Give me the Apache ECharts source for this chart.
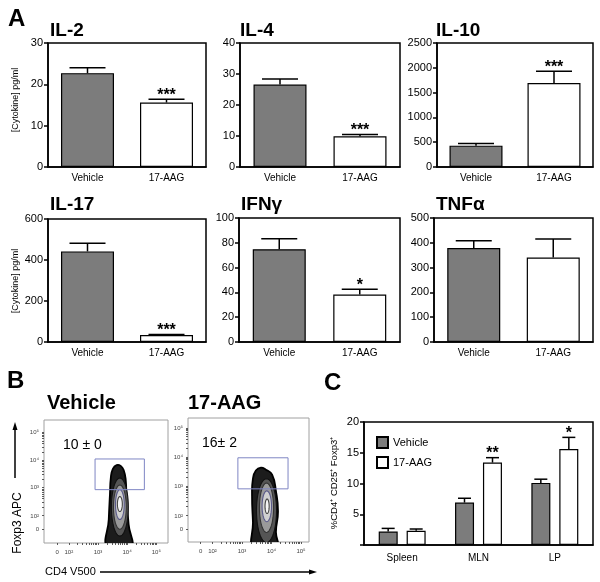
<!DOCTYPE html>
<html><head><meta charset="utf-8">
<script src="https://cdn.jsdelivr.net/npm/echarts@6/dist/echarts.min.js"></script>
<style>html,body{margin:0;padding:0;background:#fff}#c{width:600px;height:582px}</style>
</head><body><div id="c"></div>
<script>
// ================= DATA =================
const groups = ['Vehicle', '17-AAG'];

const il2Mean = [22.7, 15.6];  const il2Err = [1.3, 0.8];   const il2Sig = ['', '***'];  const il2Axis = [0, 30, 10];
const il4Mean = [26.6, 9.9];   const il4Err = [1.8, 0.6];   const il4Sig = ['', '***'];  const il4Axis = [0, 40, 10];
const il10Mean = [430, 1695];  const il10Err = [45, 235];   const il10Sig = ['', '***']; const il10Axis = [0, 2500, 500];
const il17Mean = [442, 34];    const il17Err = [40, 3];     const il17Sig = ['', '***']; const il17Axis = [0, 600, 200];
const ifngMean = [74.8, 38.3]; const ifngErr = [8.5, 4.2];  const ifngSig = ['', '*'];   const ifngAxis = [0, 100, 20];
const tnfMean = [379, 341];    const tnfErr = [29, 74];     const tnfSig = ['', ''];     const tnfAxis = [0, 500, 100];

const tissues = ['Spleen', 'MLN', 'LP'];
const tregVehicle = [2.2, 6.9, 10.1];  const tregVehicleErr = [0.5, 0.7, 0.6];
const treg17AAG = [2.3, 13.4, 15.6];   const treg17AAGErr = [0.3, 0.8, 1.9];
const tregSig = ['', '**', '*'];
const tregAxis = [0, 20, 5];

// flow cytometry (biexponential display units: 10^k -> k)
const flowXTickVals = [1.6, 2, 3, 4, 5];
const flowYTickVals = [1.5, 1.95, 3, 4, 5];
const flowTickLabels = ['0', '10²', '10³', '10⁴', '10⁵'];
const vehFreq = '10 ± 0';
const aagFreq = '16± 2';
const vehGate = [2.9, 2.93, 4.59, 4.04];
const aagGate = [2.86, 2.9, 4.56, 3.97];
const vehOuter = [[3.34,0.8],[3.37,1.86],[3.41,2.75],[3.44,3.36],[3.51,3.68],[3.64,3.82],[3.78,3.79],[3.88,3.64],[3.95,3.29],[3.98,2.57],[4.05,1.68],[4.12,0.8]];
const vehRings = [[3.75,2.3,0.29,1.05],[3.75,2.3,0.22,0.8],[3.75,2.39,0.15,0.54],[3.75,2.41,0.085,0.27]];
const aagOuter = [[3.41,0.79],[3.37,1.77],[3.34,2.65],[3.37,3.25],[3.47,3.53],[3.64,3.63],[3.81,3.56],[4.02,3.39],[4.15,2.82],[4.22,2.12],[4.15,1.42],[4.19,0.79]];
const aagRings = [[3.83,2.15,0.34,1.1],[3.83,2.25,0.24,0.85],[3.84,2.3,0.16,0.53],[3.85,2.3,0.07,0.25]];

// ================= LAYOUT / STYLE =================
const FONT = '"Liberation Sans", Arial, sans-serif';
const GRAY = '#7c7c7c';
const cytokines = [
  {name:'IL-2',  mean: il2Mean,  err: il2Err,  sig: il2Sig,  axis: il2Axis},
  {name:'IL-4',  mean: il4Mean,  err: il4Err,  sig: il4Sig,  axis: il4Axis},
  {name:'IL-10', mean: il10Mean, err: il10Err, sig: il10Sig, axis: il10Axis},
  {name:'IL-17', mean: il17Mean, err: il17Err, sig: il17Sig, axis: il17Axis},
  {name:'IFNγ',  mean: ifngMean, err: ifngErr, sig: ifngSig, axis: ifngAxis},
  {name:'TNFα',  mean: tnfMean,  err: tnfErr,  sig: tnfSig,  axis: tnfAxis}
];
const cytoGrids = [
  {left:48, top:43, width:158, height:124},
  {left:240, top:43, width:160, height:124},
  {left:437, top:43, width:156, height:124},
  {left:48, top:219, width:158, height:123},
  {left:239, top:218, width:161, height:124},
  {left:434, top:218, width:159, height:124}
];
const titlePos = [[50,31],[240,31],[436,31],[50,205],[241,205],[436,205]];

const grids = [], xAxes = [], yAxes = [], series = [];

function errSeries(gi, mean, err, sig, offset, capW, name) {
  return {
    type:'custom', name: name || 'err', xAxisIndex: gi, yAxisIndex: gi, z: 4, silent: true,
    data: mean.map((v,i)=>[i, v, err[i]]),
    renderItem: (params, api) => {
      const i = api.value(0), m = api.value(1), e = api.value(2);
      const base = api.coord([i, m]);
      const top = api.coord([i, m + e]);
      const x = base[0] + offset;
      const ch = [
        {type:'line', shape:{x1:x, y1:base[1], x2:x, y2:top[1]}, style:{stroke:'#000', lineWidth:1.5}},
        {type:'line', shape:{x1:x-capW/2, y1:top[1], x2:x+capW/2, y2:top[1]}, style:{stroke:'#000', lineWidth:1.5}}
      ];
      const s = sig[params.dataIndex];
      if (s) ch.push({type:'text', x: x, y: top[1]-4, style:{text:s, textAlign:'center', textVerticalAlign:'middle', font:'bold 16px ' + FONT, fill:'#000'}});
      return {type:'group', children: ch};
    }
  };
}

cytokines.forEach((c, gi) => {
  grids.push(Object.assign({show:true, borderColor:'#000', borderWidth:1.5, backgroundColor:'transparent'}, cytoGrids[gi]));
  xAxes.push({type:'category', gridIndex: gi, data: groups,
    axisLine:{lineStyle:{color:'#000', width:1.5}}, axisTick:{show:false},
    axisLabel:{color:'#000', fontSize:10, fontFamily: FONT, margin:6}});
  yAxes.push({type:'value', gridIndex: gi, min: c.axis[0], max: c.axis[1], interval: c.axis[2],
    axisLine:{show:true, lineStyle:{color:'#000', width:1.5}},
    axisTick:{show:true, length:4, lineStyle:{color:'#000', width:1.5}},
    splitLine:{show:false},
    axisLabel:{color:'#000', fontSize:11, fontFamily: FONT, margin:5, formatter: v => String(v)}});
  series.push({type:'bar', name: c.name, xAxisIndex: gi, yAxisIndex: gi, barWidth: 53,
    data: c.mean.map((v,i)=>({value:v, itemStyle:{color: i ? '#fff' : GRAY}})),
    itemStyle:{borderColor:'#000', borderWidth:1.2}});
  series.push(errSeries(gi, c.mean, c.err, c.sig, 0, 36));
});

// ---- flow plots ----
const minorTicks = [];
[2,3,4].forEach(k => [1,2,3,4,5,6,7,8,9].forEach(m => minorTicks.push(k + Math.log10(m))));
minorTicks.push(5);
const flowGrids = [
  {left:44, top:420, width:124, height:123, xr:[1.15,5.4], yr:[1.0,5.45], outer: vehOuter, rings: vehRings, gate: vehGate},
  {left:188, top:418, width:121, height:124, xr:[1.17,5.27], yr:[1.07,5.34], outer: aagOuter, rings: aagRings, gate: aagGate}
];
const ringFill = ['#555555', '#9a9a9a', '#d0d0d0', '#f4f4f4'];
const ringStroke = ['#111', '#333', '#5a5a8a', '#444'];
flowGrids.forEach((f, k) => {
  const gi = grids.length;
  grids.push({show:true, left:f.left, top:f.top, width:f.width, height:f.height, borderColor:'#a0a0a0', borderWidth:1, backgroundColor:'transparent'});
  xAxes.push({type:'value', gridIndex: gi, min: f.xr[0], max: f.xr[1],
    axisLine:{show:false}, splitLine:{show:false},
    axisTick:{show:true, customValues: minorTicks.concat([flowXTickVals[0]]), length:2, lineStyle:{color:'#333', width:0.8}},
    axisLabel:{customValues: flowXTickVals, formatter: v => flowTickLabels[flowXTickVals.indexOf(v)] || '', fontSize:6, color:'#444', fontFamily: FONT, margin:6}});
  yAxes.push({type:'value', gridIndex: gi, min: f.yr[0], max: f.yr[1],
    axisLine:{show:false}, splitLine:{show:false},
    axisTick:{show:true, customValues: minorTicks.concat([flowYTickVals[0]]), length:2, lineStyle:{color:'#333', width:0.8}},
    axisLabel:{customValues: flowYTickVals, formatter: v => flowTickLabels[flowYTickVals.indexOf(v)] || '', fontSize:6, color:'#444', fontFamily: FONT, margin:5}});
  // outer contour
  series.push({type:'custom', xAxisIndex: gi, yAxisIndex: gi, clip: true, silent: true, z: 2,
    data: f.outer,
    renderItem: (params, api) => {
      if (params.dataIndex !== 0) return null;
      const pts = f.outer.map(p => api.coord(p));
      return {type:'polygon', shape:{points: pts, smooth: 0.5}, style:{fill:'#1c1c1c', stroke:'#000', lineWidth:1.8}};
    }});
  // inner contour rings
  series.push({type:'custom', xAxisIndex: gi, yAxisIndex: gi, clip: true, silent: true, z: 3,
    data: f.rings,
    renderItem: (params, api) => {
      const c = api.coord([api.value(0), api.value(1)]);
      const sx = api.size([api.value(2), 0])[0];
      const sy = api.size([0, api.value(3)])[1];
      const pts = [];
      for (let a = 0; a < 48; a++) {
        const t = a / 48 * Math.PI * 2;
        pts.push([c[0] + sx * Math.cos(t), c[1] + sy * Math.sin(t)]);
      }
      const li = params.dataIndex;
      return {type:'polygon', shape:{points: pts}, style:{fill: ringFill[li], stroke: ringStroke[li], lineWidth: 1.1}};
    }});
  // gate
  series.push({type:'custom', xAxisIndex: gi, yAxisIndex: gi, silent: true, z: 5,
    data: [f.gate],
    renderItem: (params, api) => {
      const p1 = api.coord([api.value(0), api.value(3)]);
      const p2 = api.coord([api.value(2), api.value(1)]);
      return {type:'rect', shape:{x:p1[0], y:p1[1], width:p2[0]-p1[0], height:p2[1]-p1[1]}, style:{fill:'none', stroke:'#7f86c4', lineWidth:1}};
    }});
});

// ---- panel C ----
const cg = grids.length;
grids.push({show:true, left:364, top:422, width:229, height:123, borderColor:'#000', borderWidth:1.5, backgroundColor:'transparent'});
xAxes.push({type:'category', gridIndex: cg, data: tissues,
  axisLine:{lineStyle:{color:'#000', width:1.5}}, axisTick:{show:false},
  axisLabel:{color:'#000', fontSize:10, fontFamily: FONT, margin:8}});
yAxes.push({type:'value', gridIndex: cg, min: tregAxis[0], max: tregAxis[1], interval: tregAxis[2],
  axisLine:{show:true, lineStyle:{color:'#000', width:1.5}},
  axisTick:{show:true, length:4, lineStyle:{color:'#000', width:1.5}},
  splitLine:{show:false},
  axisLabel:{color:'#000', fontSize:11, fontFamily: FONT, margin:5, formatter: v => v === 0 ? '' : String(v)}});
series.push({type:'bar', name:'Vehicle', xAxisIndex: cg, yAxisIndex: cg, barWidth: 19, barGap:'47%',
  data: tregVehicle, itemStyle:{color: GRAY, borderColor:'#000', borderWidth:1.2}});
series.push({type:'bar', name:'17-AAG', xAxisIndex: cg, yAxisIndex: cg, barWidth: 19, barGap:'47%',
  data: treg17AAG, itemStyle:{color:'#fff', borderColor:'#000', borderWidth:1.2}});
series.push(errSeries(cg, tregVehicle, tregVehicleErr, ['', '', ''], -14, 13));
series.push(errSeries(cg, treg17AAG, treg17AAGErr, tregSig, 14, 13));

// ---- texts ----
function txt(x, y, s, font, extra) {
  return Object.assign({type:'text', x: x, y: y, silent: true,
    style: Object.assign({text: s, font: font, fill:'#000', textAlign:'left', textVerticalAlign:'middle'}, (extra && extra.style) || {})},
    extra && extra.rotation ? {rotation: extra.rotation} : {});
}
const graphics = [];
graphics.push(txt(8, 19, 'A', 'bold 24px ' + FONT));
graphics.push(txt(7, 381, 'B', 'bold 24px ' + FONT));
graphics.push(txt(324, 383, 'C', 'bold 24px ' + FONT));
cytokines.forEach((c, i) => graphics.push(txt(titlePos[i][0], titlePos[i][1], c.name, 'bold 19px ' + FONT)));
graphics.push(txt(16, 100, '[Cytokine] pg/ml', '9px ' + FONT, {rotation: Math.PI/2, style:{textAlign:'center'}}));
graphics.push(txt(16, 281, '[Cytokine] pg/ml', '9px ' + FONT, {rotation: Math.PI/2, style:{textAlign:'center'}}));
graphics.push(txt(47, 403, 'Vehicle', 'bold 20px ' + FONT));
graphics.push(txt(188, 403, '17-AAG', 'bold 20px ' + FONT));
graphics.push(txt(63, 445, vehFreq, '14px ' + FONT));
graphics.push(txt(202, 443, aagFreq, '14px ' + FONT));
graphics.push(txt(18, 523, 'Foxp3 APC', '12px ' + FONT, {rotation: Math.PI/2, style:{textAlign:'center'}}));
graphics.push(txt(45, 572, 'CD4 V500', '11px ' + FONT));
graphics.push(txt(334, 483, '%CD4⁺ CD25⁺ Foxp3⁺', '9.5px ' + FONT, {rotation: Math.PI/2, style:{textAlign:'center'}}));
// arrows
graphics.push({type:'line', silent:true, shape:{x1:15, y1:478, x2:15, y2:428}, style:{stroke:'#000', lineWidth:1.5}});
graphics.push({type:'polygon', silent:true, shape:{points:[[15,422],[12.5,430],[17.5,430]]}, style:{fill:'#000'}});
graphics.push({type:'line', silent:true, shape:{x1:100, y1:572, x2:311, y2:572}, style:{stroke:'#000', lineWidth:1.5}});
graphics.push({type:'polygon', silent:true, shape:{points:[[317,572],[309,569.5],[309,574.5]]}, style:{fill:'#000'}});

const chart = echarts.init(document.getElementById('c'), null, {renderer:'canvas'});
chart.setOption({
  animation: false,
  backgroundColor: '#fff',
  textStyle: {fontFamily: FONT},
  grid: grids, xAxis: xAxes, yAxis: yAxes, series: series,
  legend: {data:['Vehicle','17-AAG'], left: 371, top: 431, orient:'vertical', icon:'rect',
    itemWidth: 11, itemHeight: 11, itemGap: 7, textStyle:{fontSize:11, color:'#000', fontFamily: FONT}},
  graphic: graphics
});
</script></body></html>
